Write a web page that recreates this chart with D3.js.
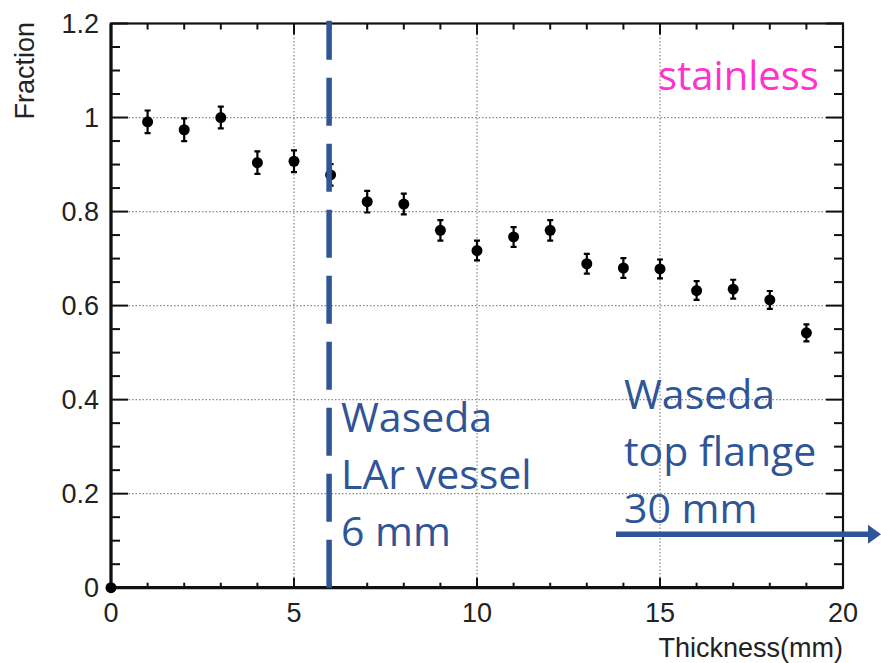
<!DOCTYPE html>
<html>
<head>
<meta charset="utf-8">
<script src="https://cdn.jsdelivr.net/npm/d3@7"></script>
<style>
  body { margin: 0; background: #fff; }
  svg { display: block; }
</style>
</head>
<body>
<div id="chart"></div>
<script>
// measured fraction vs stainless thickness
const thickness = [0, 1, 2, 3, 4, 5, 6, 7, 8, 9, 10, 11, 12, 13, 14, 15, 16, 17, 18, 19];
const fraction = [0, 0.991, 0.974, 1.0, 0.904, 0.907, 0.878, 0.821, 0.816, 0.760, 0.717, 0.746, 0.760, 0.689, 0.680, 0.678, 0.632, 0.635, 0.612, 0.542];
const fractionErr = [0, 0.024, 0.024, 0.023, 0.024, 0.023, 0.023, 0.023, 0.022, 0.022, 0.021, 0.021, 0.022, 0.021, 0.021, 0.020, 0.020, 0.020, 0.019, 0.018];

const xTicks = [0, 5, 10, 15, 20];
const yTicks = [0, 0.2, 0.4, 0.6, 0.8, 1, 1.2];
const xGrid = [5, 10, 15];
const yGrid = [0.2, 0.4, 0.6, 0.8, 1];

const vesselLines = ["Waseda", "LAr vessel", "6 mm"];
const flangeLines = ["Waseda", "top flange", "30 mm"];
const vesselThickness = 6;

const width = 881, height = 663;
const blue = "#2f5597";

const svg = d3.select("#chart").append("svg")
  .attr("width", width)
  .attr("height", height);

svg.append("rect").attr("width", width).attr("height", height).attr("fill", "#fff");

const x = d3.scaleLinear().domain([0, 20]).range([111, 843]);
const y = d3.scaleLinear().domain([0, 1.2]).range([587.7, 23.5]);

// grid
svg.append("g").selectAll("line").data(xGrid).join("line")
  .attr("x1", d => x(d)).attr("x2", d => x(d))
  .attr("y1", y(1.2)).attr("y2", y(0))
  .attr("stroke", "#888").attr("stroke-width", 1.2)
  .attr("stroke-dasharray", "1.5,2");
svg.append("g").selectAll("line").data(yGrid).join("line")
  .attr("x1", x(0)).attr("x2", x(20))
  .attr("y1", d => y(d)).attr("y2", d => y(d))
  .attr("stroke", "#888").attr("stroke-width", 1.2)
  .attr("stroke-dasharray", "1.5,2");

// ticks on all four sides
const xMinor = d3.range(0, 20.001, 1);
const yMinor = d3.range(0, 1.2001, 0.05);
const isMajX = d => Math.abs(d % 5) < 1e-6;
const isMajY = d => Math.abs(Math.round(d / 0.2) * 0.2 - d) < 1e-6;

const tk = svg.append("g").attr("stroke", "#111").attr("stroke-width", 2);
tk.selectAll(".tb").data(xMinor).join("line")
  .attr("x1", d => x(d)).attr("x2", d => x(d))
  .attr("y1", y(0)).attr("y2", d => y(0) - (isMajX(d) ? 10 : 5));
tk.selectAll(".tt").data(xMinor).join("line")
  .attr("x1", d => x(d)).attr("x2", d => x(d))
  .attr("y1", y(1.2)).attr("y2", d => y(1.2) + (isMajX(d) ? 11 : 6));
tk.selectAll(".tl").data(yMinor).join("line")
  .attr("y1", d => y(d)).attr("y2", d => y(d))
  .attr("x1", x(0)).attr("x2", d => x(0) + (isMajY(d) ? 17 : 9));
tk.selectAll(".tr").data(yMinor).join("line")
  .attr("y1", d => y(d)).attr("y2", d => y(d))
  .attr("x1", x(20)).attr("x2", d => x(20) - (isMajY(d) ? 17 : 9));

// frame
svg.append("rect")
  .attr("x", x(0)).attr("y", y(1.2))
  .attr("width", x(20) - x(0)).attr("height", y(0) - y(1.2))
  .attr("fill", "none").attr("stroke", "#111").attr("stroke-width", 2.2);
svg.append("path")
  .attr("d", `M${x(0)},${y(1.2)}V${y(0)}H${x(20)}`)
  .attr("fill", "none").attr("stroke", "#111").attr("stroke-width", 3.2);

// tick labels
const lab = svg.append("g")
  .style("font-family", "'Liberation Sans', Arial, Helvetica, sans-serif")
  .style("font-size", "27px").attr("fill", "#222");
lab.selectAll(".xl").data(xTicks).join("text")
  .attr("x", d => x(d)).attr("y", 622)
  .attr("text-anchor", "middle").text(d => d);
lab.selectAll(".yl").data(yTicks).join("text")
  .attr("x", 99).attr("y", d => y(d)).attr("dy", "0.36em")
  .attr("text-anchor", "end").text(d => d);

lab.append("text")
  .attr("x", x(20)).attr("y", 657)
  .attr("text-anchor", "end").text("Thickness(mm)");
lab.append("text")
  .attr("transform", "translate(34,22) rotate(-90)")
  .attr("text-anchor", "end").text("Fraction");

// data points with error bars
const pts = thickness.map((t, i) => ({ t, f: fraction[i], e: fractionErr[i] }));
const pg = svg.append("g");
pg.selectAll(".eb").data(pts.filter(d => d.e > 0)).join("path")
  .attr("d", d => {
    const cx = x(d.t), y1 = y(d.f + d.e), y2 = y(d.f - d.e);
    return `M${cx},${y1}V${y2}M${cx - 3},${y1}H${cx + 3}M${cx - 3},${y2}H${cx + 3}`;
  })
  .attr("stroke", "#000").attr("stroke-width", 2.2).attr("fill", "none");
pg.selectAll("circle").data(pts).join("circle")
  .attr("cx", d => x(d.t)).attr("cy", d => y(d.f)).attr("r", 5.5)
  .attr("fill", "#000");

// 6 mm vessel marker
svg.append("line")
  .attr("x1", x(vesselThickness) - 1.5).attr("x2", x(vesselThickness) - 1.5)
  .attr("y1", 20.7).attr("y2", y(0))
  .attr("stroke", blue).attr("stroke-width", 5.5)
  .attr("stroke-dasharray", "48,18").attr("stroke-dashoffset", 9);

// arrow toward 30 mm
svg.append("line")
  .attr("x1", 616).attr("x2", 871).attr("y1", 534.3).attr("y2", 534.3)
  .attr("stroke", blue).attr("stroke-width", 5.5);
svg.append("path")
  .attr("d", "M868,524.8L881,534.3L868,543.8Z")
  .attr("fill", blue);

// annotations
const ann = svg.append("g")
  .style("font-family", "'Open Sans', 'Noto Sans', sans-serif")
  .style("font-size", "41px").attr("fill", blue);
ann.selectAll(".v").data(vesselLines).join("text")
  .attr("x", 341).attr("y", (d, i) => 431.7 + i * 57).text(d => d);
ann.selectAll(".f").data(flangeLines).join("text")
  .attr("x", 624).attr("y", (d, i) => 409 + i * 57).text(d => d);

svg.append("text")
  .attr("x", 658).attr("y", 90)
  .style("font-family", "'Open Sans', 'Noto Sans', sans-serif")
  .style("font-size", "40px").attr("fill", "#ff33cc")
  .text("stainless");
</script>
</body>
</html>
